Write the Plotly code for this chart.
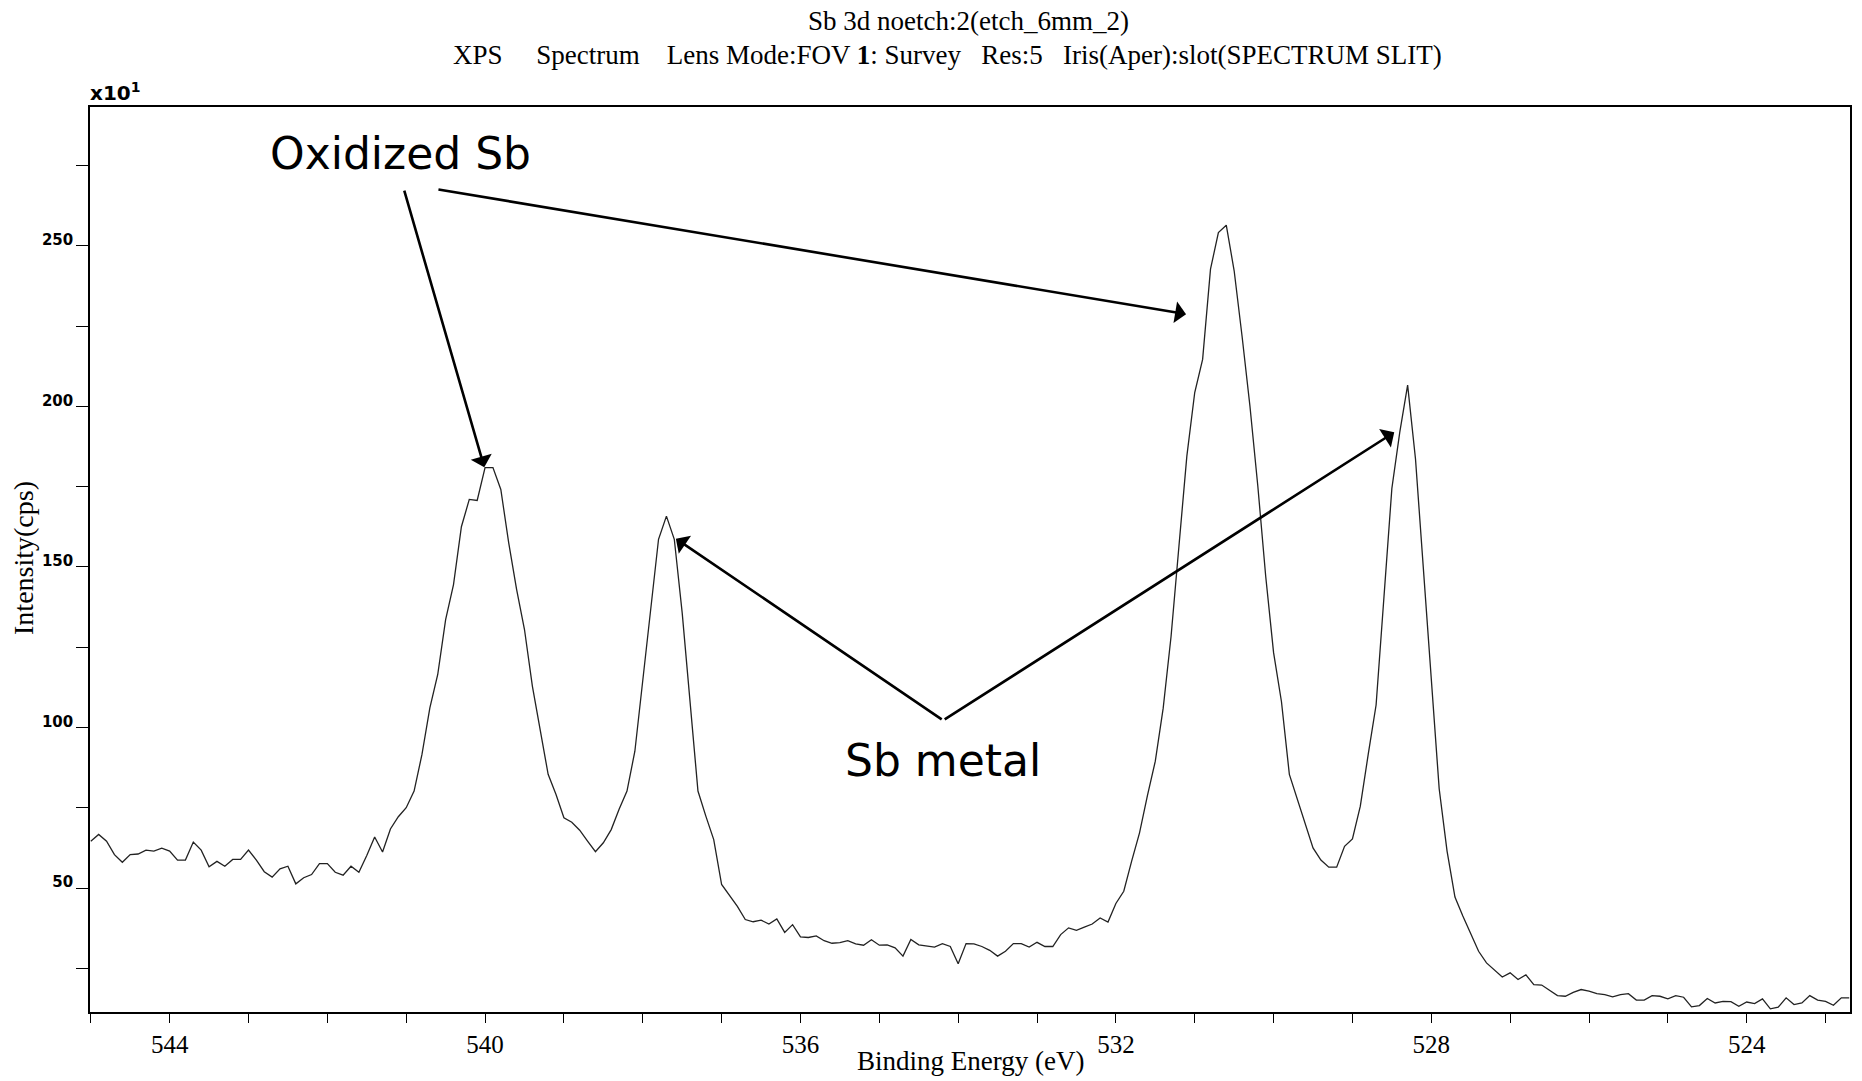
import numpy as np
import plotly.graph_objects as go

# Binding energy grid: 545.0 eV down to 522.7 eV in 0.1 eV steps (instrument sampling)
energy_start = 545.0
energy_step = -0.1

# Intensity (x10 cps), in order of decreasing binding energy
seg_baseline_left = [64.6, 66.7, 64.6, 60.4, 58.0, 60.4, 60.6, 61.8, 61.5, 62.4,
                     61.5, 58.7, 58.7, 64.3, 61.8, 56.6, 58.3, 56.8, 58.9, 58.9,
                     61.8, 58.7, 55.1, 53.4, 56.0, 56.8, 51.3, 53.2, 54.2, 57.6,
                     57.6, 54.9, 54.0, 56.8, 54.9, 60.1, 65.9, 61.2, 68.4, 72.2,
                     75.0, 80.2]
seg_3d32_peaks = [91.6, 106.1, 116.5, 133.6, 144.5, 162.5, 171.0, 170.7, 180.9, 180.9,
                  174.1, 157.5, 143.0, 130.5, 112.9, 99.4, 85.4, 79.1, 71.9, 70.5,
                  68.0, 64.6, 61.3, 64.1, 68.2, 74.5, 80.2, 92.6, 115.0, 135.7,
                  158.6, 165.8, 158.6, 135.7, 107.7, 80.2, 72.4, 65.1, 51.1, 47.5,
                  44.3, 40.2]
seg_baseline_mid = [39.5, 40.0, 38.8, 40.4, 36.2, 38.6, 34.8, 34.6, 35.1, 33.6,
                    32.8, 33.0, 33.6, 32.6, 32.2, 33.9, 32.2, 32.3, 31.4, 28.8,
                    34.0, 32.3, 32.0, 31.6, 32.7, 31.8, 26.4, 32.7, 32.6, 31.8,
                    30.6, 28.8, 30.3, 32.7, 32.7, 31.6, 33.1, 31.8, 31.8, 35.5,
                    37.6, 36.8, 37.8, 38.8]
seg_3d52_oxide = [40.7, 39.4, 45.2, 49.0, 58.4, 67.2, 78.8, 89.5, 106.0, 128.4,
                  156.5, 184.5, 204.3, 214.6, 242.7, 254.1, 256.4, 242.2, 221.9, 200.1,
                  175.2, 147.1, 123.3, 108.0, 85.4, 77.6, 69.8, 62.5, 58.7, 56.5,
                  56.5, 63.0, 65.3, 75.5, 91.6]
seg_3d52_metal = [107.0, 140.7, 174.4, 191.9, 206.6, 183.5, 149.7, 114.0, 80.9, 61.5,
                  47.2, 41.3, 35.5]
seg_tail = [30.3, 26.7, 24.4, 22.3, 23.6, 21.5, 23.0, 19.9, 19.8, 18.2,
            16.5, 16.3, 17.5, 18.4, 17.9, 17.1, 16.8, 16.1, 16.8, 17.1,
            15.1, 15.1, 16.5, 16.3, 15.5, 16.5, 16.0, 13.0, 13.4, 15.6,
            14.2, 14.7, 14.6, 13.2, 14.5, 14.0, 15.5, 12.4, 12.9, 15.8,
            13.7, 14.2, 16.5, 15.1, 14.7, 13.5, 15.8, 15.8]

intensity = (seg_baseline_left + seg_3d32_peaks + seg_baseline_mid
             + seg_3d52_oxide + seg_3d52_metal + seg_tail)
energy = [round(energy_start + energy_step * i, 1) for i in range(len(intensity))]

title_line1 = "Sb 3d noetch:2(etch_6mm_2)"
title_line2 = ("XPS\u00a0\u00a0\u00a0\u00a0\u00a0Spectrum\u00a0\u00a0\u00a0\u00a0Lens Mode:FOV <b>1</b>: Survey"
               "\u00a0\u00a0\u00a0Res:5\u00a0\u00a0\u00a0Iris(Aper):slot(SPECTRUM SLIT)")
x_title = "Binding Energy (eV)"
y_title = "Intensity(cps)"
y_ticks = [50, 100, 150, 200, 250]
x_ticks = [544, 540, 536, 532, 528, 524]

# annotation arrows: (head E, head I, tail E, tail I)
arrows = [
    (540.01, 181.0, 541.03, 267.6),
    (531.11, 228.7, 540.61, 267.6),
    (537.58, 158.8, 534.19, 102.2),
    (528.47, 191.9, 534.19, 102.2),
]

fig = go.Figure()
fig.add_trace(go.Scatter(x=energy, y=intensity, mode="lines",
                         line=dict(color="#222222", width=1.3), showlegend=False))

serif = "Liberation Serif"
fig.update_layout(
    width=1862, height=1081,
    margin=dict(l=90, r=10, t=107, b=69),
    paper_bgcolor="white", plot_bgcolor="white",
    showlegend=False,
)
fig.update_xaxes(
    range=[545.01, 522.69], showgrid=False, zeroline=False,
    showline=True, linecolor="black", linewidth=1.6, mirror=True,
    tickmode="array", tickvals=x_ticks, ticktext=[str(t) for t in x_ticks],
    ticks="outside", ticklen=9, tickwidth=1, tickcolor="black",
    minor=dict(dtick=1, ticks="outside", ticklen=9, tickwidth=1, tickcolor="black", showgrid=False),
    tickfont=dict(family=serif, size=25, color="black"),
)
fig.update_yaxes(
    range=[11.4, 293.2], showgrid=False, zeroline=False,
    showline=True, linecolor="black", linewidth=1.6, mirror=True,
    tickmode="array", tickvals=y_ticks, ticktext=[str(t) for t in y_ticks],
    ticks="outside", ticklen=12, tickwidth=1, tickcolor="black",
    minor=dict(tick0=25, dtick=25, ticks="outside", ticklen=12, tickwidth=1, tickcolor="black", showgrid=False),
    tickfont=dict(family="DejaVu Sans", size=15, color="black", weight="bold"),
    ticklabelshift=-6,
)

anns = [
    dict(text=title_line1, xref="paper", yref="paper", x=0.4994, y=1.095,
         xanchor="center", yanchor="middle", showarrow=False,
         font=dict(family=serif, size=27, color="black")),
    dict(text=title_line2, xref="paper", yref="paper", x=0.487, y=1.0575,
         xanchor="center", yanchor="middle", showarrow=False,
         font=dict(family=serif, size=27, color="black")),
    dict(text="x10<sup>1</sup>", xref="paper", yref="paper", x=-0.001, y=1.0,
         xanchor="left", yanchor="bottom", showarrow=False,
         font=dict(family="DejaVu Sans", size=20, color="black", weight="bold")),
    dict(text=x_title, xref="paper", yref="paper", x=0.5, y=-0.054,
         xanchor="center", yanchor="middle", showarrow=False,
         font=dict(family=serif, size=27, color="black")),
    dict(text=y_title, xref="paper", yref="paper", x=-0.0375, y=0.5017,
         xanchor="center", yanchor="middle", showarrow=False, textangle=-90,
         font=dict(family=serif, size=28, color="black")),
    dict(text="Oxidized Sb", x=541.07, y=278.8, xref="x", yref="y",
         xanchor="center", yanchor="middle", showarrow=False,
         font=dict(family="DejaVu Sans", size=44, color="black")),
    dict(text="Sb metal", x=534.19, y=89.7, xref="x", yref="y",
         xanchor="center", yanchor="middle", showarrow=False,
         font=dict(family="DejaVu Sans", size=44, color="black")),
]
for hx, hy, tx, ty in arrows:
    anns.append(dict(text="", x=hx, y=hy, ax=tx, ay=ty, xref="x", yref="y",
                     axref="x", ayref="y", showarrow=True, arrowhead=1,
                     arrowsize=1.4, arrowwidth=2.6, arrowcolor="black", standoff=0))
fig.update_layout(annotations=anns)

fig.write_html("out.html")
